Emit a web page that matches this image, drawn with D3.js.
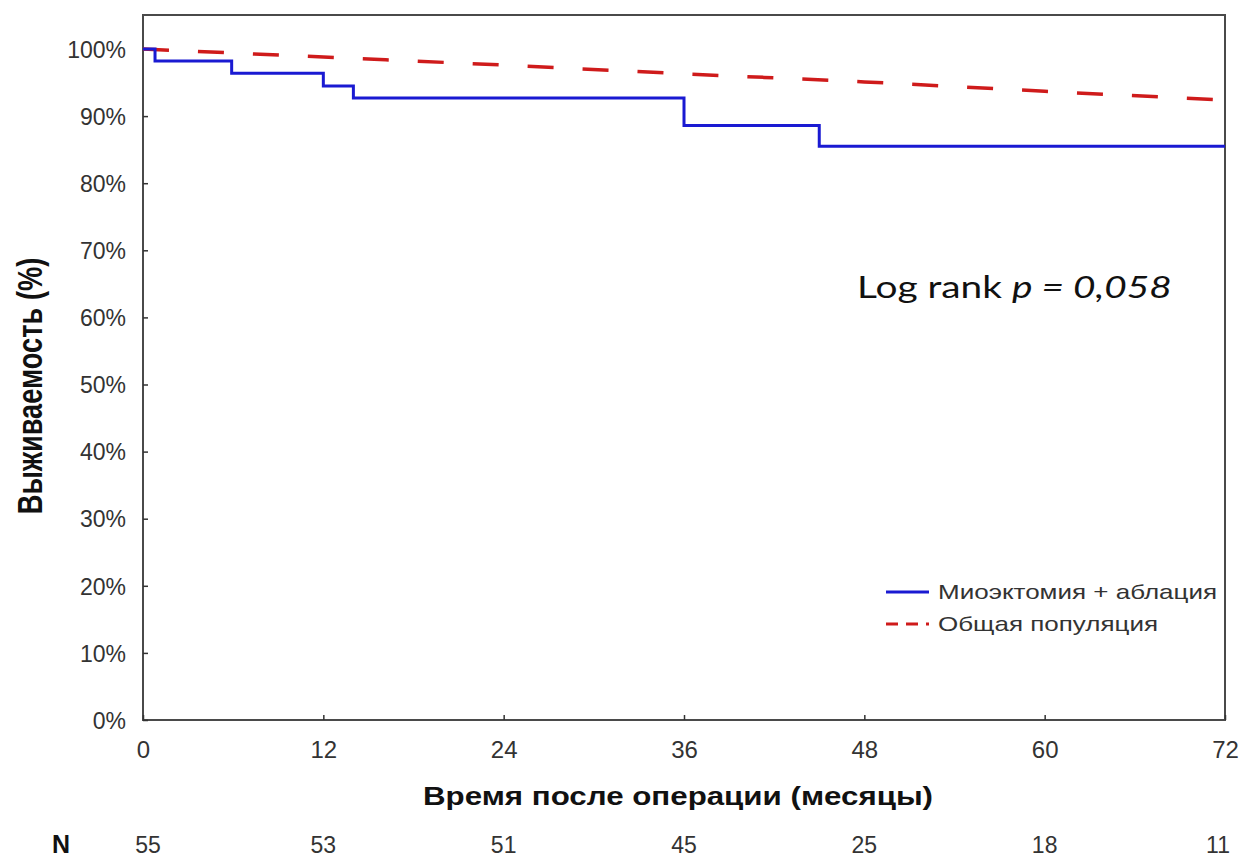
<!DOCTYPE html>
<html>
<head>
<meta charset="utf-8">
<script src="https://cdn.jsdelivr.net/npm/d3@7"></script>
<style>
  html, body { margin: 0; padding: 0; background: #fff; }
  svg { display: block; }
  text { font-family: "Liberation Sans", Arial, sans-serif; }
</style>
</head>
<body>
<svg id="chart" width="1241" height="858"></svg>
<script>
// Kaplan–Meier step curve: event times (months) and survival after each step (%)
const kmTimes    = [0, 0.8, 5.9, 12, 14, 36, 45];
const kmSurvival = [100, 98.2, 96.4, 94.5, 92.7, 88.6, 85.5];
const kmEnd = 72;

// Expected survival of the general population (%), by month
const popTimes    = [0, 12, 24, 36, 48, 60, 72];
const popSurvival = [100, 98.8, 97.6, 96.3, 95.1, 93.7, 92.4];

// Axis ticks and number at risk
const xTicks = [0, 12, 24, 36, 48, 60, 72];
const yTicks = [0, 10, 20, 30, 40, 50, 60, 70, 80, 90, 100];
const atRisk = [55, 53, 51, 45, 25, 18, 11];

const seriesNames = ["Миоэктомия + аблация", "Общая популяция"];

const svg = d3.select("#chart");
const plotLeft = 143, plotRight = 1225, plotTop = 15, plotBottom = 720;

const x = d3.scaleLinear().domain([0, 72]).range([plotLeft, plotRight]);
const y = d3.scaleLinear().domain([0, 105]).range([plotBottom, plotBottom - 105 * 6.71]);

// Frame
svg.append("rect")
  .attr("x", plotLeft).attr("y", plotTop)
  .attr("width", plotRight - plotLeft).attr("height", plotBottom - plotTop)
  .attr("fill", "none").attr("stroke", "#4a4a4a").attr("stroke-width", 2);

// Y axis (ticks pointing inward)
const yAxis = svg.append("g")
  .attr("transform", `translate(${plotLeft},0)`)
  .call(d3.axisRight(y).tickValues(yTicks).tickSize(5).tickFormat(d => d + "%"));
yAxis.select(".domain").remove();
yAxis.selectAll("line").attr("stroke", "#333").attr("stroke-width", 1.5);
yAxis.selectAll("text")
  .attr("x", -17).attr("text-anchor", "end")
  .attr("font-size", 23).attr("fill", "#333")
  .attr("dy", "0.36em");

// X axis (ticks pointing inward)
const xAxis = svg.append("g")
  .attr("transform", `translate(0,${plotBottom})`)
  .call(d3.axisTop(x).tickValues(xTicks).tickSize(5).tickFormat(d3.format("d")));
xAxis.select(".domain").remove();
xAxis.selectAll("line").attr("stroke", "#333").attr("stroke-width", 1.5);
xAxis.selectAll("text")
  .attr("y", 38).attr("dy", 0)
  .attr("text-anchor", "middle")
  .attr("font-size", 24).attr("fill", "#333");

// Population survival (dashed)
const popData = popTimes.map((t, i) => [t, popSurvival[i]]);
svg.append("path")
  .datum(popData)
  .attr("fill", "none")
  .attr("stroke", "#cf1b1b")
  .attr("stroke-width", 3.5)
  .attr("stroke-dasharray", "26,29")
  .attr("d", d3.line().x(d => x(d[0])).y(d => y(d[1])).curve(d3.curveMonotoneX));

// Kaplan–Meier curve (step after)
const kmData = kmTimes.map((t, i) => [t, kmSurvival[i]]).concat([[kmEnd, kmSurvival[kmSurvival.length - 1]]]);
svg.append("path")
  .datum(kmData)
  .attr("fill", "none")
  .attr("stroke", "#1a1ad2")
  .attr("stroke-width", 3)
  .attr("d", d3.line().x(d => x(d[0])).y(d => y(d[1])).curve(d3.curveStepAfter));

// Axis titles
svg.append("text")
  .attr("x", 678).attr("y", 805)
  .attr("text-anchor", "middle")
  .attr("font-size", 25).attr("font-weight", "bold").attr("fill", "#111")
  .attr("textLength", 510).attr("lengthAdjust", "spacingAndGlyphs")
  .text("Время после операции (месяцы)");

svg.append("text")
  .attr("transform", "translate(42,386) rotate(-90) scale(1.09,1.4)")
  .attr("text-anchor", "middle")
  .attr("font-size", 25).attr("font-weight", "bold").attr("fill", "#111")
  .text("Выживаемость (%)");

// Number at risk row
svg.append("text")
  .attr("x", 61).attr("y", 853)
  .attr("text-anchor", "middle")
  .attr("font-size", 25).attr("font-weight", "bold").attr("fill", "#111")
  .text("N");
svg.append("g").selectAll("text")
  .data(atRisk)
  .join("text")
  .attr("x", (d, i) => x(xTicks[i]) + (i === 0 ? 5 : 0) - (i === atRisk.length - 1 ? 7 : 0))
  .attr("y", 853)
  .attr("text-anchor", "middle")
  .attr("font-size", 23).attr("fill", "#333")
  .text(d => d);

// Log-rank annotation, widened horizontally to a 315 px run
const lr = svg.append("text")
  .style("font-family", "Lato, 'Open Sans', sans-serif")
  .attr("font-size", 31).attr("fill", "#111");
lr.append("tspan").text("Log rank ");
lr.append("tspan").attr("font-style", "italic").text("p = 0,058");
const lrWidth = lr.node().getComputedTextLength();
lr.attr("transform", `translate(857,298) scale(${315 / lrWidth},1)`);

// Legend
const legend = svg.append("g");
const legendY = [592, 624];
const legendStyle = [
  { stroke: "#1a1ad2", dash: null },
  { stroke: "#cf1b1b", dash: "12,8" }
];
seriesNames.forEach((name, i) => {
  legend.append("line")
    .attr("x1", 886).attr("x2", 929)
    .attr("y1", legendY[i]).attr("y2", legendY[i])
    .attr("stroke", legendStyle[i].stroke)
    .attr("stroke-width", 3)
    .attr("stroke-dasharray", legendStyle[i].dash);
  legend.append("text")
    .attr("transform", `translate(938,${legendY[i] + 7}) scale(1.3,1)`)
    .attr("font-size", 20).attr("fill", "#333")
    .text(name);
});
</script>
</body>
</html>
